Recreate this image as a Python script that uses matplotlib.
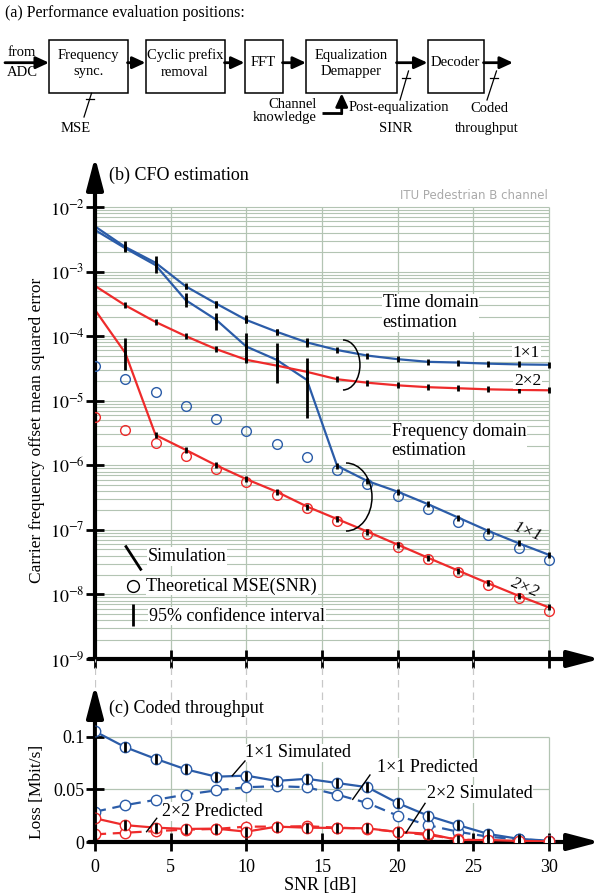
import numpy as np
import matplotlib
matplotlib.use('Agg')
import matplotlib.pyplot as plt
from matplotlib.patches import Arc, Rectangle
from matplotlib.ticker import NullLocator

plt.rcParams['font.family'] = 'serif'
plt.rcParams['font.serif'] = ['Liberation Serif', 'DejaVu Serif']
plt.rcParams['mathtext.fontset'] = 'stix'

# ---- data -------------------------------------------------------------
snr = [0, 2, 4, 6, 8, 10, 12, 14, 16, 18, 20, 22, 24, 26, 28, 30]

# (b) CFO estimation MSE
time_1x1 = [5.0e-3, 2.4e-3, 1.37e-3, 5.9e-4, 3.2e-4, 1.78e-4, 1.17e-4, 8.0e-5,
            6.1e-5, 5.0e-5, 4.4e-5, 4.0e-5, 3.9e-5, 3.75e-5, 3.65e-5, 3.6e-5]
freq_1x1 = [4.4e-3, 2.3e-3, 1.26e-3, 3.6e-4, 1.8e-4, 6.9e-5, 4.3e-5, 2.1e-5,
            9.8e-7, 5.7e-7, 3.9e-7, 2.5e-7, 1.55e-7, 9.6e-8, 6.2e-8, 4.1e-8]
time_2x2 = [6.0e-4, 3.0e-4, 1.66e-4, 1.0e-4, 6.3e-5, 4.3e-5, 3.5e-5, 2.8e-5,
            2.15e-5, 1.9e-5, 1.73e-5, 1.62e-5, 1.56e-5, 1.5e-5, 1.47e-5, 1.45e-5]
freq_2x2 = [2.55e-4, 5.5e-5, 2.95e-6, 1.73e-6, 1.0e-6, 6.1e-7, 3.9e-7, 2.3e-7,
            1.47e-7, 9.4e-8, 5.9e-8, 3.7e-8, 2.34e-8, 1.48e-8, 9.5e-9, 6.3e-9]
theory_1x1 = [3.5e-5, 2.15e-5, 1.35e-5, 8.3e-6, 5.3e-6, 3.4e-6, 2.13e-6, 1.35e-6,
              8.4e-7, 5.2e-7, 3.4e-7, 2.12e-7, 1.32e-7, 8.4e-8, 5.3e-8, 3.4e-8]
theory_2x2 = [5.5e-6, 3.5e-6, 2.2e-6, 1.4e-6, 8.7e-7, 5.5e-7, 3.5e-7, 2.2e-7,
              1.38e-7, 8.7e-8, 5.5e-8, 3.5e-8, 2.2e-8, 1.38e-8, 8.7e-9, 5.5e-9]

# wide 95% confidence intervals
ci_snr = [2, 4, 6, 8, 10, 12, 14, 6, 8, 10, 12, 14, 2]
ci_low = [2.0e-3, 9.5e-4, 5.4e-4, 2.7e-4, 1.6e-4, 1.03e-4, 6.9e-5,
          2.8e-4, 1.26e-4, 4.0e-5, 1.87e-5, 5.4e-6, 3.0e-5]
ci_high = [3.0e-3, 1.74e-3, 6.2e-4, 3.5e-4, 2.1e-4, 1.3e-4, 9.3e-5,
           4.7e-4, 2.3e-4, 1.12e-4, 7.9e-5, 4.6e-5, 9.3e-5]

# (c) coded throughput loss [Mbit/s]
sim_1x1 = [0.105, 0.090, 0.079, 0.069, 0.062, 0.063, 0.058, 0.060,
           0.056, 0.052, 0.037, 0.025, 0.016, 0.0076, 0.003, 0.0012]
pred_1x1 = [0.0287, 0.035, 0.040, 0.045, 0.049, 0.052, 0.053, 0.052,
            0.045, 0.037, 0.025, 0.016, 0.0097, 0.005, 0.0025, 0.0012]
sim_2x2 = [0.0225, 0.016, 0.0136, 0.0124, 0.0127, 0.0098, 0.0146, 0.0136,
           0.0133, 0.013, 0.0095, 0.0079, 0.0019, 0.0019, 0.001, 0.0006]
pred_2x2 = [0.0073, 0.0088, 0.0104, 0.0117, 0.0124, 0.0146, 0.0146, 0.015,
            0.0136, 0.0127, 0.0095, 0.0067, 0.0025, 0.0012, 0.0003, 0.0]

b_yticks = [1e-2, 1e-3, 1e-4, 1e-5, 1e-6, 1e-7, 1e-8, 1e-9]
b_yticklabels = [r'$10^{-2}$', r'$10^{-3}$', r'$10^{-4}$', r'$10^{-5}$',
                 r'$10^{-6}$', r'$10^{-7}$', r'$10^{-8}$', r'$10^{-9}$']
x_ticks = [0, 5, 10, 15, 20, 25, 30]
c_yticks = [0, 0.05, 0.1]
c_yticklabels = ['0', '0.05', '0.1']

# ---- style ------------------------------------------------------------
blue = '#2b5ca8'
red = '#ee2b2b'
grid_c = '#b3c4b3'
FS = 13
W, H = 602, 896


def rect(x0, y0, x1, y1):
    # pixel box -> figure fraction
    return [x0 / W, 1 - y1 / H, (x1 - x0) / W, (y1 - y0) / H]


def axis_arrow(ax, start, end):
    ax.annotate('', xy=end, xytext=start, annotation_clip=False,
                arrowprops=dict(arrowstyle='-|>,head_length=1.6,head_width=0.42',
                                lw=3, color='k', shrinkA=0, shrinkB=0,
                                mutation_scale=12))


fig = plt.figure(figsize=(6.02, 8.96), dpi=100)

# ---- (a) block diagram ------------------------------------------------
axa = fig.add_axes([0, 1 - 140 / H, 1, 140 / H])
axa.set_xlim(0, W)
axa.set_ylim(140, 0)
axa.axis('off')
axa.text(5, 13, '(a) Performance evaluation positions:', fontsize=11.5, va='center')

boxes = [(49, 127.5, ['Frequency', 'sync.']),
         (145.5, 224.5, ['Cyclic prefix', 'removal']),
         (244.5, 282.5, ['FFT']),
         (306, 396.5, ['Equalization', 'Demapper']),
         (427.5, 483.5, ['Decoder'])]
for x0, x1, lines in boxes:
    axa.add_patch(Rectangle((x0, 40), x1 - x0, 53.3, fill=False, lw=1.1, ec='k'))
    if len(lines) == 1:
        axa.text((x0 + x1) / 2, 63, lines[0], ha='center', va='center', fontsize=10.5)
    else:
        axa.text((x0 + x1) / 2, 55, lines[0], ha='center', va='center', fontsize=10.5)
        axa.text((x0 + x1) / 2, 72, lines[1], ha='center', va='center', fontsize=10.5)

ap = dict(arrowstyle='-|>,head_length=0.65,head_width=0.3', lw=2, color='k',
          shrinkA=0, shrinkB=0, mutation_scale=12)
for xa, xb in [(5, 49), (127.5, 145.5), (224.5, 244.5), (282.5, 306),
               (396.5, 427.5), (483.5, 513)]:
    axa.annotate('', xy=(xb, 62.7), xytext=(xa, 62.7), arrowprops=ap)
axa.text(22, 53, 'from', ha='center', va='center', fontsize=10.5)
axa.text(22, 72, 'ADC', ha='center', va='center', fontsize=10.5)

# channel knowledge feed
axa.plot([321.5, 341.7], [112.7, 112.7], color='k', lw=2, solid_capstyle='butt')
axa.annotate('', xy=(341.7, 93.3), xytext=(341.7, 113.7), arrowprops=ap)
axa.text(316.5, 105, 'Channel', ha='right', va='center', fontsize=10.5)
axa.text(316.5, 117, 'knowledge', ha='right', va='center', fontsize=10.5)

# measurement marks
for (xb, yb, xt, yt) in [(84, 117, 91.5, 93.3), (400, 100, 408.5, 71), (487, 100, 496.5, 71)]:
    axa.plot([xb, xt], [yb, yt], color='k', lw=0.9)
    ym = yt + 0.25 * (yb - yt)
    xm = xt + 0.25 * (xb - xt)
    axa.plot([xm - 4, xm + 4], [ym, ym], color='k', lw=0.9)
axa.text(76, 128, 'MSE', ha='center', va='center', fontsize=10.5)
axa.text(399, 108, 'Post-equalization', ha='center', va='center', fontsize=10.5)
axa.text(396, 128.5, 'SINR', ha='center', va='center', fontsize=10.5)
axa.text(489, 108, 'Coded', ha='center', va='center', fontsize=10.5)
axa.text(487, 128.5, 'throughput', ha='center', va='center', fontsize=10.5)

# ---- (b) CFO estimation -----------------------------------------------
xmax = 505 / 15.133
b_top = 10 ** (-2 + 50 / 64.57)
axb = fig.add_axes(rect(95, 157, 600, 659))
axb.set_yscale('log')
axb.set_xlim(0, xmax)
axb.set_ylim(1e-9, b_top)
for s in axb.spines.values():
    s.set_visible(False)
axb.patch.set_alpha(0)

minor_vals = [k * 10.0 ** e for e in range(-9, -2) for k in range(1, 10)] + [1e-2]
axb.hlines(minor_vals, 0, 30, color=grid_c, lw=0.8, zorder=0)
axb.vlines(x_ticks, 1e-9, 1e-2, color=grid_c, lw=0.9, zorder=0)

axb.plot(snr, time_1x1, color=blue, lw=1.6, zorder=3)
axb.plot(snr, freq_1x1, color=blue, lw=1.6, zorder=3)
axb.plot(snr, time_2x2, color=red, lw=1.6, zorder=3)
axb.plot(snr, freq_2x2, color=red, lw=1.6, zorder=3)
for series in [time_1x1, freq_1x1, time_2x2, freq_2x2]:
    axb.plot(snr, series, ls='none', marker='|', ms=5, mew=2, color='k', zorder=5)
axb.plot(snr, theory_1x1, ls='none', marker='o', ms=7, mfc='none', mec=blue, mew=1, zorder=4)
axb.plot(snr, theory_2x2, ls='none', marker='o', ms=7, mfc='none', mec=red, mew=1, zorder=4)
axb.vlines(ci_snr, ci_low, ci_high, color='k', lw=2, zorder=6)

axb.set_xticks(x_ticks)
axb.set_xticklabels([])
axb.set_yticks(b_yticks)
axb.set_yticklabels(b_yticklabels, fontsize=FS)
axb.yaxis.set_minor_locator(NullLocator())
axb.tick_params(axis='both', direction='inout', length=13, width=2, pad=1)
axis_arrow(axb, (-0.4, 1e-9), (xmax, 1e-9))
axis_arrow(axb, (0, 1e-9), (0, b_top))

bb = dict(fc='white', ec='none', pad=0.5)
axb.text(0.93, 3.13e-2, '(b) CFO estimation', fontsize=FS, va='center')
axb.text(29.95, 1.53e-2, 'ITU Pedestrian B channel', family='DejaVu Sans',
         fontsize=8.5, color='#aaaaaa', ha='right', va='center')
axb.text(19.0, 2.32e-4, 'Time domain\nestimation', fontsize=FS, va='center', bbox=bb, zorder=7)
axb.text(19.6, 2.39e-6, 'Frequency domain\nestimation', fontsize=FS, va='center', bbox=bb, zorder=7)
axb.text(28.5, 5.54e-5, '1×1', fontsize=12.5, ha='center', va='center', bbox=bb, zorder=7)
axb.text(28.6, 2.04e-5, '2×2', fontsize=12.5, ha='center', va='center', bbox=bb, zorder=7)
axb.text(28.6, 9.3e-8, '1×1', fontsize=12.5, ha='center', va='center', rotation=-22,
         style='italic', zorder=7)
axb.text(28.4, 1.26e-8, '2×2', fontsize=12.5, ha='center', va='center', rotation=-22,
         style='italic', zorder=7)

axb.add_patch(Arc((0.491, 0.5857), 0.0673, 0.0996, theta1=-90, theta2=90,
                  transform=axb.transAxes, lw=1.1, color='k', zorder=7))
axb.add_patch(Arc((0.497, 0.3227), 0.103, 0.1355, theta1=-90, theta2=90,
                  transform=axb.transAxes, lw=1.1, color='k', zorder=7))

# legend-like key
axb.plot([2.05, 3.02], [5.5e-8, 2.45e-8], color='k', lw=2, zorder=7)
axb.text(3.48, 3.84e-8, 'Simulation', fontsize=FS, va='center', bbox=bb, zorder=7)
axb.plot([2.51], [1.35e-8], ls='none', marker='o', ms=8.5, mfc='white', mec='k', mew=1, zorder=7)
axb.text(3.4, 1.35e-8, 'Theoretical MSE(SNR)', fontsize=FS, va='center', bbox=bb, zorder=7)
axb.vlines([2.51], [3.24e-9], [7.1e-9], color='k', lw=2, zorder=7)
axb.text(3.57, 4.63e-9, '95% confidence interval', fontsize=FS, va='center', bbox=bb, zorder=7)

fig.text(37 / W, 1 - 430 / H, 'Carrier frequency offset mean squared error',
         rotation=90, ha='center', va='center', fontsize=12.5)

# ---- (c) coded throughput ---------------------------------------------
c_top = 183 / 1053.3
axc = fig.add_axes(rect(95, 659, 600, 842))
axc.set_xlim(0, xmax)
axc.set_ylim(0, c_top)
for s in axc.spines.values():
    s.set_visible(False)
axc.patch.set_alpha(0)

axc.hlines([0.05, 0.1], 0, 30, color=grid_c, lw=0.9, zorder=0)
axc.vlines(x_ticks[1:], 0, 0.1, color=grid_c, lw=0.9, zorder=0)
axc.vlines(x_ticks[:-1], 0.1, c_top, color='#c8c8c8', lw=0.9, linestyles=(0, (6, 4)), zorder=0)

axc.plot(snr, pred_1x1, color=blue, lw=1.6, ls=(0, (5, 3)), marker='o', ms=7.5,
         mfc='white', mec=blue, mew=1, zorder=3)
axc.plot(snr, sim_1x1, color=blue, lw=1.6, marker='o', ms=7.5,
         mfc='white', mec=blue, mew=1, zorder=4)
axc.plot(snr, pred_2x2, color=red, lw=1.6, ls=(0, (5, 3)), marker='o', ms=7.5,
         mfc='white', mec=red, mew=1, zorder=3)
axc.plot(snr, sim_2x2, color=red, lw=1.6, marker='o', ms=7.5,
         mfc='white', mec=red, mew=1, zorder=4)
for series in [sim_1x1, sim_2x2]:
    axc.plot(snr, series, ls='none', marker='|', ms=7, mew=2, color='k', zorder=5)

axc.set_xticks(x_ticks)
axc.set_xticklabels([str(v) for v in x_ticks], fontsize=FS)
axc.set_yticks(c_yticks)
axc.set_yticklabels(c_yticklabels, fontsize=FS)
axc.tick_params(axis='both', direction='inout', length=13, width=2, pad=1)
axc.tick_params(axis='x', pad=6)
axis_arrow(axc, (-0.4, 0), (xmax, 0))
axis_arrow(axc, (0, 0), (0, 0.149))

axc.text(0.93, 0.1272, '(c) Coded throughput', fontsize=FS, va='center')
for label, tx, ty, lx0, lx1, ly0, ly1 in [
        ('1×1 Simulated', 9.91, 0.0845, 9.91, 9.07, 0.0769, 0.0629),
        ('1×1 Predicted', 18.62, 0.0709, 18.17, 17.03, 0.0636, 0.0405),
        ('2×2 Simulated', 21.92, 0.0456, 21.81, 20.55, 0.0367, 0.0088),
        ('2×2 Predicted', 4.45, 0.0288, 4.08, 3.41, 0.0225, 0.0098)]:
    axc.text(tx, ty, label, fontsize=FS, va='center', bbox=bb, zorder=7)
    axc.plot([lx0, lx1], [ly0, ly1], color='k', lw=1, zorder=7)

fig.text(320 / W, 1 - 885 / H, 'SNR [dB]', ha='center', va='center', fontsize=FS)
fig.text(37 / W, 1 - 792 / H, 'Loss [Mbit/s]', rotation=90, ha='center',
         va='center', fontsize=12.5)

fig.savefig('out.png', dpi=100)
